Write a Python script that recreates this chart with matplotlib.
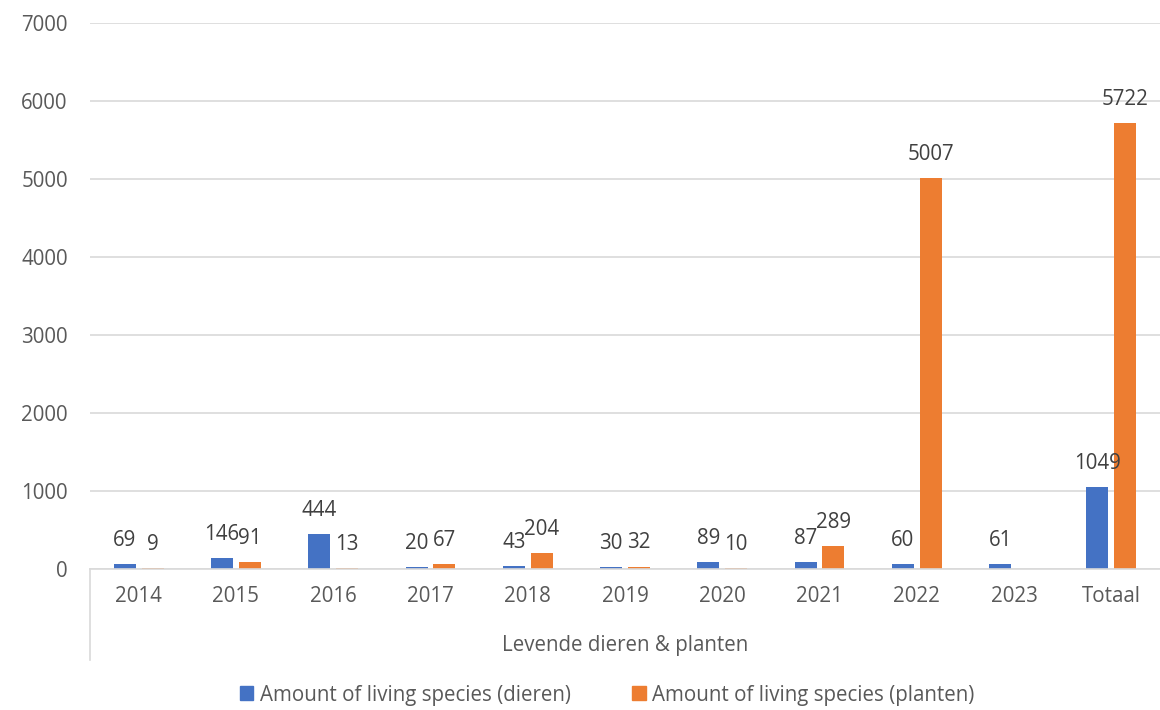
import numpy as np
import matplotlib
matplotlib.use('Agg')
import matplotlib.pyplot as plt
from matplotlib.patches import Patch
from matplotlib.lines import Line2D

plt.rcParams['font.family'] = ['Open Sans', 'DejaVu Sans']

categories = ['2014', '2015', '2016', '2017', '2018', '2019', '2020',
              '2021', '2022', '2023', 'Totaal']
dieren = [69, 146, 444, 20, 43, 30, 89, 87, 60, 61, 1049]
planten = [9, 91, 13, 67, 204, 32, 10, 289, 5007, np.nan, 5722]
group_label = 'Levende dieren & planten'
series_names = ['Amount of living species (dieren)',
                'Amount of living species (planten)']

BLUE = '#4472C4'
ORANGE = '#ED7D31'
TXT = '#595959'
LBL = '#404040'
FS = 14.8

fig = plt.figure(figsize=(11.6, 7.1), dpi=100)
ax = fig.add_axes([90 / 1160, 1 - 569 / 710, 1 - 90 / 1160, 546 / 710])

x = np.arange(len(categories))
w = 0.226
off = 0.143
ax.bar(x - off, dieren, w, color=BLUE)
ax.bar(x + off, np.nan_to_num(planten), w, color=ORANGE)

for xs, vals in [(x - off, dieren), (x + off, planten)]:
    for xi, v in zip(xs, vals):
        if np.isnan(v):
            continue
        ax.annotate(f'{int(v)}', (xi, v), xytext=(0, 17), textcoords='offset points',
                    ha='center', va='center', fontsize=FS, color=LBL,
                    annotation_clip=False)

ax.set_xlim(-0.5, len(categories) - 0.5)
ax.set_ylim(0, 7000)
ax.set_yticks(range(0, 7001, 1000))
ax.set_xticks(x)
ax.set_xticklabels(categories)
ax.tick_params(axis='both', length=0, labelsize=FS, labelcolor=TXT)
ax.tick_params(axis='y', pad=16)
ax.tick_params(axis='x', pad=12)
ax.grid(axis='y', color='#d9d9d9', lw=1.2)
ax.set_axisbelow(True)
for s in ['top', 'right', 'left']:
    ax.spines[s].set_visible(False)
ax.spines['bottom'].set_color('#d9d9d9')
ax.spines['bottom'].set_linewidth(1.2)

# category group axis
ax.add_line(Line2D([0, 0], [0, -91 / 546], transform=ax.transAxes,
                   color='#d9d9d9', lw=1.2, clip_on=False))
ax.text(0.5, -77 / 546, group_label, transform=ax.transAxes, ha='center',
        va='center', fontsize=FS, color=TXT)

handles = [Patch(color=BLUE), Patch(color=ORANGE)]
fig.legend(handles, series_names, loc='center', bbox_to_anchor=(607 / 1160, 1 - 695 / 710),
           ncol=2, frameon=False, fontsize=FS, handlelength=0.65, handleheight=0.65,
           handletextpad=0.3, columnspacing=3.0, labelcolor=TXT)

fig.savefig('out.png', dpi=100)
